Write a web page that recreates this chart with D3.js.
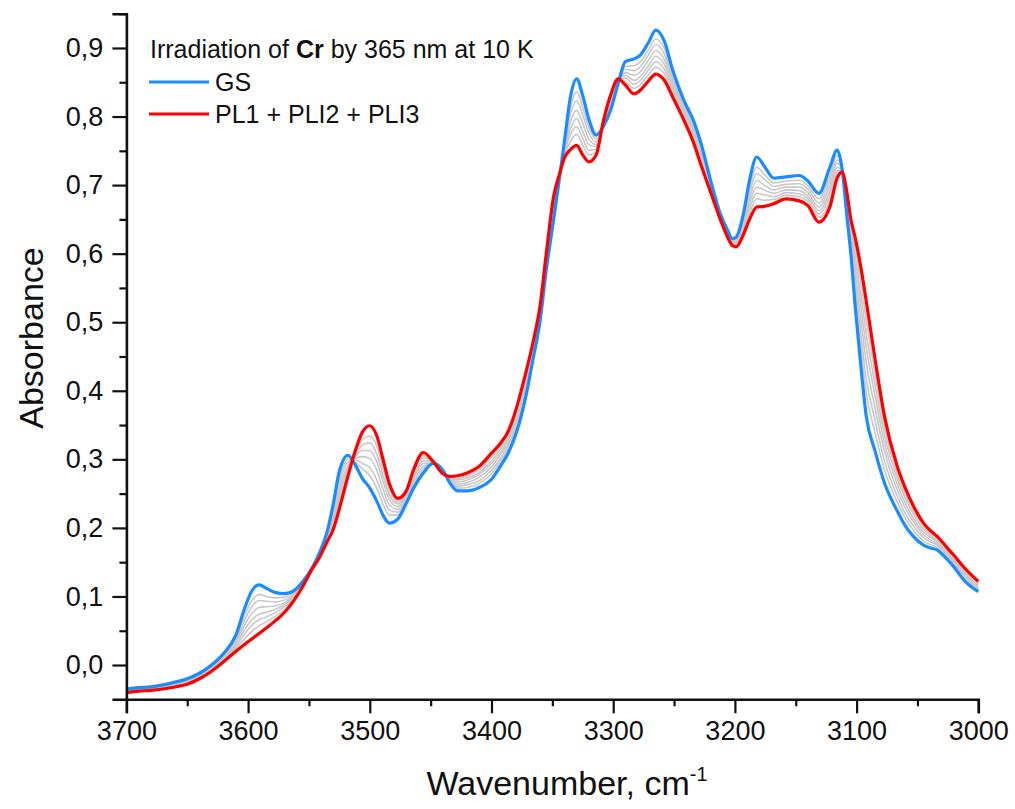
<!DOCTYPE html>
<html>
<head>
<meta charset="utf-8">
<script src="https://cdn.jsdelivr.net/npm/d3@7"></script>
<style>
  html, body { margin: 0; padding: 0; background: #fff; }
  svg { display: block; font-family: Arial, "Liberation Sans", sans-serif; }
</style>
</head>
<body>
<svg id="chart" width="1015" height="809"></svg>
<script>
// Wavenumber grid (cm-1)
const wavenumbers = [3700,3690,3680,3670,3660,3650,3640,3630,3620,3610,3603,3597,3591,3585,3578,3570,3562,3555,3548,3541,3535,3530,3525,3518,3512,3506,3500,3494,3489,3484,3477,3470,3464,3456,3448,3440,3434,3428,3420,3410,3400,3392,3386,3379,3372,3366,3360,3355,3349,3344,3340,3335,3330,3325,3320,3314,3308,3302,3296,3290,3283,3278,3271,3265,3258,3251,3242,3234,3228,3220,3212,3206,3202,3199,3193,3188,3182,3176,3168,3158,3147,3140,3131,3122,3116,3112,3108,3105,3101,3097,3092,3085,3077,3067,3060,3053,3045,3040,3034,3026,3020,3012,3000];

// GS (blue)
const gs = [-0.035,-0.033,-0.032,-0.029,-0.025,-0.020,-0.012,0.000,0.017,0.044,0.082,0.108,0.117,0.112,0.106,0.104,0.109,0.122,0.140,0.165,0.195,0.235,0.283,0.306,0.292,0.272,0.258,0.238,0.218,0.207,0.213,0.236,0.258,0.280,0.294,0.284,0.265,0.254,0.254,0.259,0.271,0.292,0.310,0.342,0.390,0.445,0.503,0.576,0.649,0.712,0.765,0.830,0.855,0.830,0.796,0.773,0.786,0.810,0.848,0.880,0.884,0.889,0.908,0.926,0.910,0.867,0.824,0.794,0.762,0.707,0.658,0.634,0.622,0.624,0.658,0.707,0.741,0.728,0.710,0.712,0.714,0.706,0.688,0.726,0.751,0.725,0.655,0.605,0.520,0.445,0.362,0.313,0.265,0.226,0.203,0.187,0.175,0.171,0.168,0.155,0.143,0.124,0.107];

// PL1 + PLI2 + PLI3 (red)
const pl = [-0.040,-0.038,-0.037,-0.035,-0.032,-0.028,-0.020,-0.009,0.005,0.020,0.030,0.038,0.046,0.054,0.064,0.077,0.095,0.115,0.138,0.158,0.180,0.198,0.228,0.275,0.312,0.340,0.349,0.333,0.299,0.265,0.243,0.254,0.285,0.310,0.297,0.279,0.275,0.276,0.280,0.290,0.309,0.325,0.342,0.378,0.425,0.470,0.525,0.600,0.683,0.717,0.740,0.752,0.758,0.744,0.734,0.744,0.794,0.832,0.855,0.846,0.833,0.838,0.852,0.862,0.853,0.828,0.795,0.762,0.730,0.690,0.650,0.624,0.612,0.610,0.628,0.650,0.668,0.669,0.673,0.680,0.677,0.670,0.646,0.668,0.710,0.719,0.690,0.653,0.622,0.585,0.530,0.448,0.362,0.292,0.258,0.231,0.207,0.197,0.188,0.172,0.160,0.143,0.122];

// Intermediate irradiation spectra (grey)
const inter1 = [-0.036,-0.034,-0.033,-0.030,-0.026,-0.022,-0.014,-0.002,0.015,0.039,0.072,0.094,0.103,0.100,0.098,0.099,0.106,0.121,0.140,0.164,0.192,0.228,0.272,0.300,0.296,0.286,0.276,0.257,0.234,0.219,0.219,0.240,0.263,0.286,0.295,0.283,0.267,0.258,0.259,0.265,0.279,0.299,0.316,0.349,0.397,0.450,0.507,0.581,0.656,0.713,0.760,0.814,0.836,0.813,0.784,0.767,0.788,0.814,0.849,0.873,0.874,0.879,0.897,0.913,0.899,0.859,0.818,0.788,0.756,0.704,0.656,0.632,0.620,0.621,0.652,0.696,0.726,0.716,0.703,0.706,0.707,0.699,0.680,0.714,0.743,0.724,0.662,0.615,0.540,0.473,0.396,0.340,0.284,0.239,0.214,0.196,0.181,0.176,0.172,0.158,0.146,0.128,0.110];
const inter2 = [-0.037,-0.035,-0.034,-0.031,-0.027,-0.023,-0.015,-0.003,0.013,0.036,0.065,0.085,0.094,0.093,0.092,0.095,0.104,0.120,0.139,0.163,0.190,0.223,0.265,0.296,0.299,0.294,0.288,0.269,0.245,0.226,0.223,0.242,0.267,0.290,0.295,0.282,0.268,0.261,0.263,0.269,0.284,0.303,0.321,0.354,0.402,0.453,0.510,0.584,0.660,0.714,0.757,0.804,0.823,0.802,0.776,0.763,0.789,0.817,0.850,0.869,0.867,0.872,0.890,0.905,0.891,0.854,0.814,0.783,0.751,0.701,0.655,0.631,0.619,0.619,0.648,0.688,0.717,0.709,0.698,0.701,0.702,0.694,0.674,0.707,0.737,0.723,0.667,0.621,0.554,0.491,0.417,0.358,0.297,0.248,0.221,0.202,0.186,0.180,0.175,0.161,0.149,0.130,0.112];
const inter3 = [-0.037,-0.035,-0.034,-0.032,-0.028,-0.024,-0.016,-0.004,0.011,0.033,0.058,0.075,0.084,0.085,0.086,0.091,0.102,0.119,0.139,0.162,0.188,0.218,0.257,0.291,0.301,0.304,0.301,0.283,0.256,0.234,0.227,0.244,0.271,0.294,0.295,0.282,0.270,0.264,0.266,0.274,0.289,0.308,0.325,0.359,0.406,0.457,0.513,0.587,0.665,0.714,0.753,0.793,0.809,0.790,0.767,0.759,0.790,0.820,0.851,0.864,0.860,0.865,0.882,0.896,0.883,0.849,0.810,0.779,0.747,0.699,0.654,0.629,0.617,0.617,0.644,0.680,0.707,0.700,0.693,0.697,0.697,0.689,0.668,0.699,0.732,0.722,0.671,0.628,0.568,0.511,0.441,0.376,0.311,0.257,0.229,0.208,0.190,0.183,0.177,0.163,0.151,0.133,0.114];
const inter4 = [-0.038,-0.036,-0.035,-0.033,-0.029,-0.025,-0.017,-0.005,0.010,0.030,0.051,0.066,0.074,0.077,0.081,0.088,0.101,0.118,0.139,0.161,0.186,0.213,0.250,0.287,0.304,0.313,0.313,0.295,0.267,0.242,0.231,0.247,0.274,0.298,0.296,0.281,0.271,0.267,0.270,0.278,0.294,0.312,0.329,0.364,0.411,0.460,0.516,0.590,0.669,0.715,0.750,0.783,0.797,0.778,0.759,0.756,0.791,0.823,0.852,0.860,0.853,0.858,0.874,0.888,0.876,0.844,0.807,0.775,0.743,0.697,0.653,0.628,0.616,0.616,0.640,0.673,0.697,0.693,0.688,0.693,0.692,0.684,0.663,0.691,0.726,0.721,0.676,0.634,0.581,0.529,0.463,0.394,0.323,0.266,0.236,0.213,0.194,0.187,0.180,0.165,0.153,0.135,0.116];
const inter5 = [-0.039,-0.037,-0.036,-0.033,-0.030,-0.026,-0.018,-0.006,0.008,0.027,0.045,0.058,0.066,0.070,0.076,0.085,0.099,0.117,0.139,0.160,0.184,0.208,0.243,0.284,0.306,0.321,0.324,0.306,0.276,0.249,0.235,0.249,0.277,0.302,0.296,0.280,0.272,0.270,0.273,0.281,0.298,0.316,0.333,0.368,0.415,0.463,0.519,0.593,0.673,0.716,0.747,0.774,0.785,0.768,0.751,0.752,0.792,0.826,0.853,0.856,0.847,0.852,0.868,0.880,0.869,0.839,0.803,0.771,0.739,0.695,0.652,0.627,0.615,0.614,0.636,0.666,0.688,0.686,0.683,0.689,0.687,0.680,0.658,0.684,0.721,0.721,0.680,0.640,0.593,0.546,0.483,0.410,0.335,0.274,0.243,0.219,0.198,0.190,0.182,0.167,0.155,0.138,0.118];
const inter6 = [-0.039,-0.037,-0.036,-0.034,-0.031,-0.027,-0.019,-0.008,0.007,0.024,0.038,0.049,0.057,0.063,0.071,0.081,0.097,0.116,0.138,0.159,0.182,0.204,0.237,0.280,0.309,0.329,0.334,0.318,0.286,0.256,0.238,0.251,0.281,0.305,0.297,0.280,0.273,0.272,0.276,0.285,0.303,0.320,0.337,0.372,0.419,0.466,0.521,0.596,0.678,0.716,0.744,0.764,0.774,0.758,0.744,0.749,0.793,0.828,0.854,0.851,0.841,0.846,0.861,0.872,0.862,0.834,0.800,0.767,0.735,0.693,0.651,0.626,0.614,0.612,0.633,0.659,0.680,0.678,0.679,0.685,0.683,0.676,0.653,0.677,0.717,0.720,0.684,0.645,0.606,0.563,0.503,0.426,0.346,0.281,0.249,0.224,0.202,0.193,0.185,0.169,0.157,0.140,0.120];

const xTicks = [3700,3600,3500,3400,3300,3200,3100,3000];
const yTicks = [0.0,0.1,0.2,0.3,0.4,0.5,0.6,0.7,0.8,0.9];

const svg = d3.select("#chart");
const x = d3.scaleLinear().domain([3700, 3000]).range([126.4, 978.3]);
const y = d3.scaleLinear().domain([-0.05, 0.95]).range([699.3, 13.7]);

const fmt = v => d3.format(".1f")(v).replace(".", ",");

// Curves
const mk = arr => wavenumbers.map((w, i) => [w, arr[i]]);
const line = d3.line().x(d => x(d[0])).y(d => y(d[1])).curve(d3.curveMonotoneX);

const plot = svg.append("g");
[inter1, inter2, inter3, inter4, inter5, inter6].forEach(arr => {
  plot.append("path").datum(mk(arr)).attr("d", line)
    .attr("fill", "none").attr("stroke", "#c8c8c8").attr("stroke-width", 1.6);
});
plot.append("path").datum(mk(gs)).attr("d", line)
  .attr("fill", "none").attr("stroke", "#1a8cff").attr("stroke-width", 3.2).attr("stroke-linejoin", "round");
plot.append("path").datum(mk(pl)).attr("d", line)
  .attr("fill", "none").attr("stroke", "#ff0000").attr("stroke-width", 3.2).attr("stroke-linejoin", "round");

// Axes
const xAxis = svg.append("g").attr("transform", `translate(0,${y(-0.05)})`)
  .call(d3.axisBottom(x).tickValues(xTicks).tickFormat(d3.format("d")).tickSize(14).tickPadding(8));
const xMinor = svg.append("g").attr("transform", `translate(0,${y(-0.05)})`)
  .call(d3.axisBottom(x).tickValues(d3.range(3650, 3000, -100)).tickFormat("").tickSize(7));
const yAxis = svg.append("g").attr("transform", `translate(${x(3700)},0)`)
  .call(d3.axisLeft(y).tickValues(yTicks).tickFormat(fmt).tickSize(14).tickPadding(9));
const yMinor = svg.append("g").attr("transform", `translate(${x(3700)},0)`)
  .call(d3.axisLeft(y).tickValues(d3.range(0.05, 0.96, 0.1)).tickFormat("").tickSize(7));

[xAxis, xMinor, yAxis, yMinor].forEach(g => {
  g.select(".domain").attr("stroke", "#111").attr("stroke-width", 2.6);
  g.selectAll(".tick line").attr("stroke", "#111").attr("stroke-width", 2.2);
  g.selectAll(".tick text").attr("fill", "#111").style("font-size", "27px")
    .style("font-family", "Arial, 'Liberation Sans', sans-serif");
});
xMinor.select(".domain").remove();
yMinor.select(".domain").remove();

// Axis titles
svg.append("text").attr("x", 567).attr("y", 795).attr("text-anchor", "middle")
  .style("font-size", "34px").attr("fill", "#111")
  .text("Wavenumber, cm")
  .append("tspan").attr("dy", -14).style("font-size", "20px").text("-1");

svg.append("text").attr("transform", "translate(43,338) rotate(-90)")
  .attr("text-anchor", "middle").style("font-size", "34px").attr("fill", "#111")
  .text("Absorbance");

// Legend
const lg = svg.append("g");
const title = lg.append("text").attr("x", 150).attr("y", 58).style("font-size", "25px").attr("fill", "#111");
title.append("tspan").text("Irradiation of ");
title.append("tspan").style("font-weight", "bold").text("Cr");
title.append("tspan").text(" by 365 nm at 10 K");

const legendItems = [
  { label: "GS", color: "#1a8cff", y: 82 },
  { label: "PL1 + PLI2 + PLI3", color: "#ff0000", y: 114 }
];
legendItems.forEach(it => {
  lg.append("line").attr("x1", 149).attr("x2", 209).attr("y1", it.y).attr("y2", it.y)
    .attr("stroke", it.color).attr("stroke-width", 3.2);
  lg.append("text").attr("x", 215).attr("y", it.y + 9).style("font-size", "25px")
    .attr("fill", "#111").text(it.label);
});
</script>
</body>
</html>
